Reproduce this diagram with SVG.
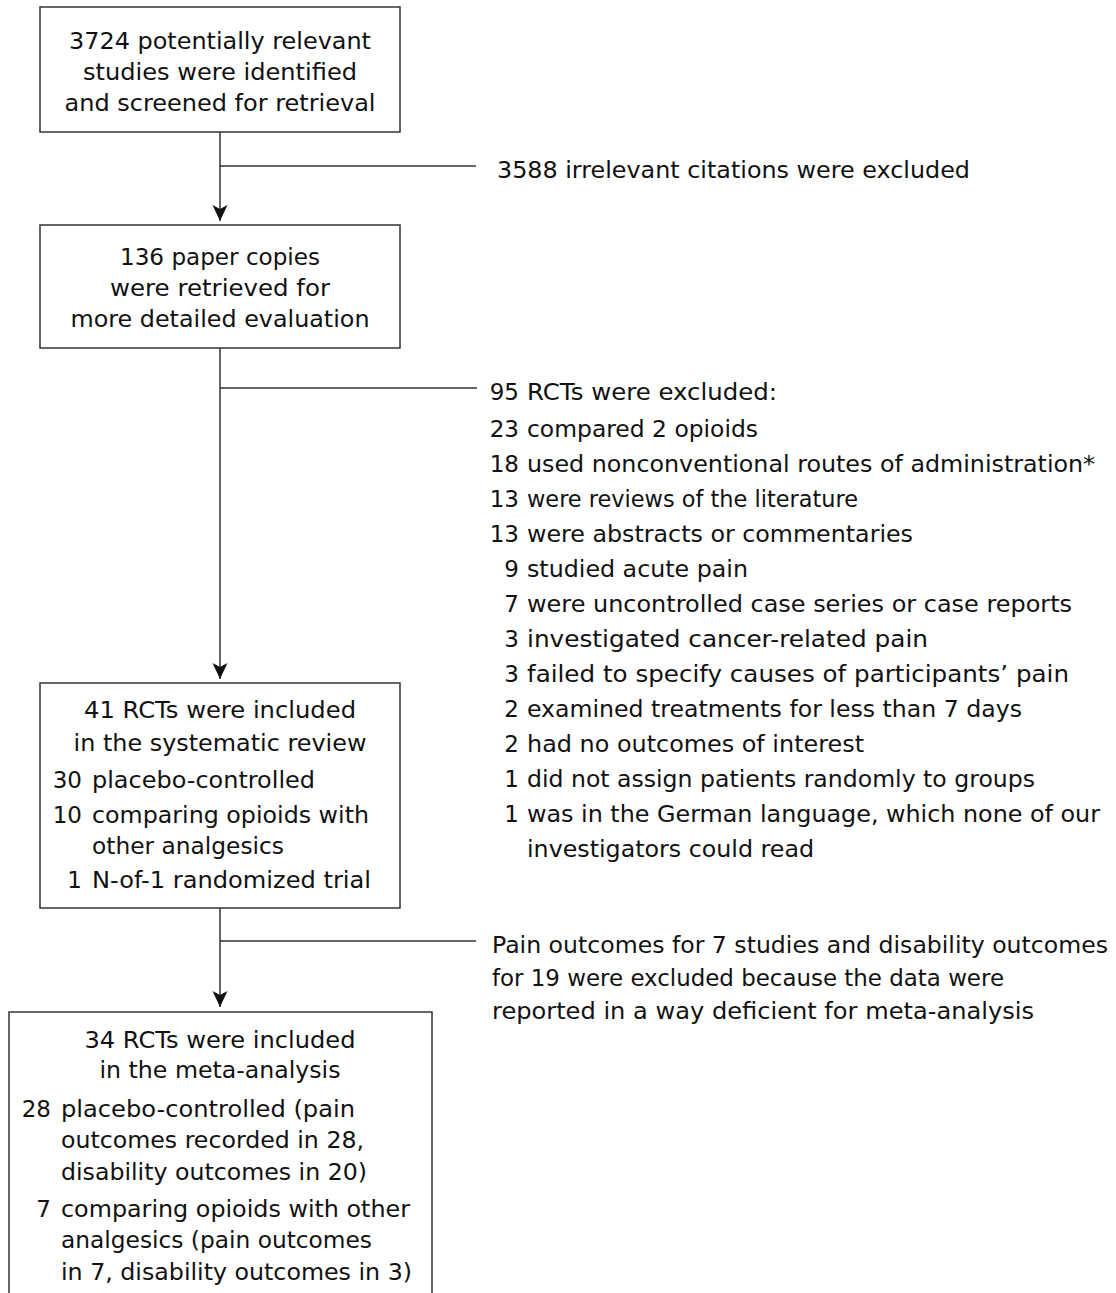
<svg xmlns="http://www.w3.org/2000/svg" width="1116" height="1293" viewBox="0 0 1116 1293">
<style>
.box{fill:#fff;stroke:#333;stroke-width:1.5}
.ln{fill:none;stroke:#333;stroke-width:1.5}
text{font-family:"DejaVu Sans",Verdana,sans-serif;font-size:23px;fill:#111}
.c{text-anchor:middle}
.e{text-anchor:end}
</style>
<defs>
<marker id="ah" markerUnits="userSpaceOnUse" markerWidth="18" markerHeight="18" viewBox="-17 -9 18 18" refX="0" refY="0" orient="auto">
<path d="M0,0 L-16,-7.5 L-12,0 L-16,7.5 Z" fill="#111"/>
</marker>
</defs>
<rect width="1116" height="1293" fill="#fff"/>
<g id="connectors">
<line class="ln" x1="220" y1="132" x2="220" y2="221" marker-end="url(#ah)"/>
<line class="ln" x1="220" y1="166" x2="476" y2="166"/>
<line class="ln" x1="220" y1="348" x2="220" y2="679" marker-end="url(#ah)"/>
<line class="ln" x1="220" y1="388" x2="477" y2="388"/>
<line class="ln" x1="220" y1="908" x2="220" y2="1007" marker-end="url(#ah)"/>
<line class="ln" x1="220" y1="941" x2="476" y2="941"/>
</g>
<g id="node-identified">
<rect class="box" x="40" y="7" width="360" height="125"/>
<text class="c" x="220" y="49" textLength="302" lengthAdjust="spacingAndGlyphs">3724 potentially relevant</text>
<text class="c" x="220" y="80" textLength="274" lengthAdjust="spacingAndGlyphs">studies were identified</text>
<text class="c" x="220" y="111" textLength="311" lengthAdjust="spacingAndGlyphs">and screened for retrieval</text>
</g>
<g id="excl-1">
<text x="497" y="178" textLength="473" lengthAdjust="spacingAndGlyphs">3588 irrelevant citations were excluded</text>
</g>
<g id="node-retrieved">
<rect class="box" x="40" y="225" width="360" height="123"/>
<text class="c" x="220" y="265" textLength="200" lengthAdjust="spacingAndGlyphs">136 paper copies</text>
<text class="c" x="220" y="296" textLength="220" lengthAdjust="spacingAndGlyphs">were retrieved for</text>
<text class="c" x="220" y="327" textLength="299" lengthAdjust="spacingAndGlyphs">more detailed evaluation</text>
</g>
<g id="excl-2">
<text class="e" x="519" y="400">95</text><text x="527" y="400" textLength="250" lengthAdjust="spacingAndGlyphs">RCTs were excluded:</text>
<text class="e" x="519" y="437">23</text><text x="527" y="437" textLength="231" lengthAdjust="spacingAndGlyphs">compared 2 opioids</text>
<text class="e" x="519" y="472">18</text><text x="527" y="472" textLength="568" lengthAdjust="spacingAndGlyphs">used nonconventional routes of administration*</text>
<text class="e" x="519" y="507">13</text><text x="527" y="507" textLength="331" lengthAdjust="spacingAndGlyphs">were reviews of the literature</text>
<text class="e" x="519" y="542">13</text><text x="527" y="542" textLength="386" lengthAdjust="spacingAndGlyphs">were abstracts or commentaries</text>
<text class="e" x="519" y="577">9</text><text x="527" y="577" textLength="221" lengthAdjust="spacingAndGlyphs">studied acute pain</text>
<text class="e" x="519" y="612">7</text><text x="527" y="612" textLength="545" lengthAdjust="spacingAndGlyphs">were uncontrolled case series or case reports</text>
<text class="e" x="519" y="647">3</text><text x="527" y="647" textLength="401" lengthAdjust="spacingAndGlyphs">investigated cancer-related pain</text>
<text class="e" x="519" y="682">3</text><text x="527" y="682" textLength="542" lengthAdjust="spacingAndGlyphs">failed to specify causes of participants’ pain</text>
<text class="e" x="519" y="717">2</text><text x="527" y="717" textLength="495" lengthAdjust="spacingAndGlyphs">examined treatments for less than 7 days</text>
<text class="e" x="519" y="752">2</text><text x="527" y="752" textLength="337" lengthAdjust="spacingAndGlyphs">had no outcomes of interest</text>
<text class="e" x="519" y="787">1</text><text x="527" y="787" textLength="508" lengthAdjust="spacingAndGlyphs">did not assign patients randomly to groups</text>
<text class="e" x="519" y="822">1</text><text x="527" y="822" textLength="573" lengthAdjust="spacingAndGlyphs">was in the German language, which none of our</text>
<text x="527" y="857" textLength="287" lengthAdjust="spacingAndGlyphs">investigators could read</text>
</g>
<g id="node-review">
<rect class="box" x="40" y="683" width="360" height="225"/>
<text class="c" x="220" y="718" textLength="272" lengthAdjust="spacingAndGlyphs">41 RCTs were included</text>
<text class="c" x="220" y="751" textLength="293" lengthAdjust="spacingAndGlyphs">in the systematic review</text>
<text class="e" x="82" y="788">30</text><text x="92" y="788" textLength="223" lengthAdjust="spacingAndGlyphs">placebo-controlled</text>
<text class="e" x="82" y="823">10</text><text x="92" y="823" textLength="277" lengthAdjust="spacingAndGlyphs">comparing opioids with</text>
<text x="92" y="854" textLength="192" lengthAdjust="spacingAndGlyphs">other analgesics</text>
<text class="e" x="82" y="888">1</text><text x="92" y="888" textLength="279" lengthAdjust="spacingAndGlyphs">N-of-1 randomized trial</text>
</g>
<g id="excl-3">
<text x="492" y="953" textLength="616" lengthAdjust="spacingAndGlyphs">Pain outcomes for 7 studies and disability outcomes</text>
<text x="492" y="986" textLength="512" lengthAdjust="spacingAndGlyphs">for 19 were excluded because the data were</text>
<text x="492" y="1019" textLength="542" lengthAdjust="spacingAndGlyphs">reported in a way deficient for meta-analysis</text>
</g>
<g id="node-meta">
<rect class="box" x="9" y="1012" width="423" height="300"/>
<text class="c" x="220" y="1048" textLength="271" lengthAdjust="spacingAndGlyphs">34 RCTs were included</text>
<text class="c" x="220" y="1078" textLength="241" lengthAdjust="spacingAndGlyphs">in the meta-analysis</text>
<text class="e" x="51" y="1117">28</text><text x="61" y="1117" textLength="294" lengthAdjust="spacingAndGlyphs">placebo-controlled (pain</text>
<text x="61" y="1148" textLength="303" lengthAdjust="spacingAndGlyphs">outcomes recorded in 28,</text>
<text x="61" y="1180" textLength="306" lengthAdjust="spacingAndGlyphs">disability outcomes in 20)</text>
<text class="e" x="51" y="1217">7</text><text x="61" y="1217" textLength="349" lengthAdjust="spacingAndGlyphs">comparing opioids with other</text>
<text x="61" y="1248" textLength="311" lengthAdjust="spacingAndGlyphs">analgesics (pain outcomes</text>
<text x="61" y="1280" textLength="351" lengthAdjust="spacingAndGlyphs">in 7, disability outcomes in 3)</text>
</g>
</svg>
